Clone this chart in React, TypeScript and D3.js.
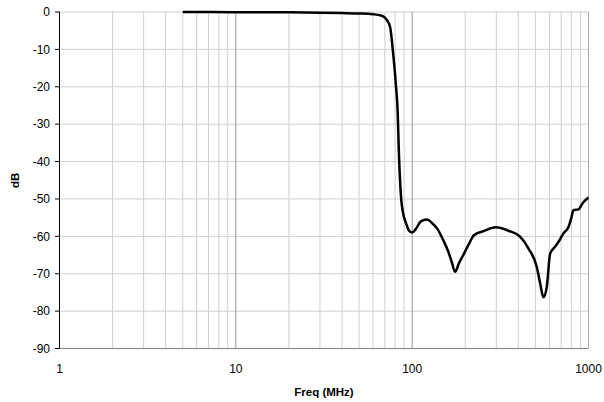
import React from "react";
import * as d3 from "d3";

const freqMHz = [5, 10, 20, 30, 40, 50, 60, 66, 70, 72, 75, 77.6, 80.7, 82.8, 84, 86.3, 89, 92.3, 96, 100, 105, 112, 121, 130, 139, 150, 160, 168, 175, 185, 195, 210, 224, 254, 298, 351, 409, 456, 509, 532, 555, 580, 606, 640, 675, 721, 770, 800, 821, 877, 930, 1000];
const gainDb = [0, -0.05, -0.1, -0.2, -0.3, -0.4, -0.6, -0.9, -1.5, -2.2, -4, -10, -19, -27, -37, -49, -54, -56.5, -58.5, -59, -58, -56, -55.5, -56.5, -58, -61, -64, -67, -69.5, -67, -65, -62, -59.7, -58.6, -57.6, -58.5, -60.1, -63.2, -68.2, -72.6, -76.3, -73.5, -64.6, -63, -61.5, -59.2, -57.5, -55, -53, -52.8, -51, -49.6];
const yTicks = [0, -10, -20, -30, -40, -50, -60, -70, -80, -90];
const xTicks = [1, 10, 100, 1000];
const xMinor = [2, 3, 4, 5, 6, 7, 8, 9, 20, 30, 40, 50, 60, 70, 80, 90, 200, 300, 400, 500, 600, 700, 800, 900];

const W = 604, H = 402;
const L = 59.5, R = 588.5, T = 12, B = 348.5;

export default function App() {
  const x = d3.scaleLog().domain([1, 1000]).range([L, R]);
  const y = d3.scaleLinear().domain([-90, 0]).range([B, T]);
  const pts = freqMHz.map((f, i) => [f, gainDb[i]] as [number, number]);
  const line = d3.line<[number, number]>().x(d => x(d[0])).y(d => y(d[1])).curve(d3.curveMonotoneX);
  const font = "Arial, 'Liberation Sans', sans-serif";
  return (
    <svg width={W} height={H} style={{ position: "absolute", left: 0, top: 0 }} fontFamily={font}>
      <rect width={W} height={H} fill="#fff" />
      {yTicks.map(t => (
        <line key={"h" + t} x1={L} x2={R} y1={y(t)} y2={y(t)} stroke="#cfcfcf" strokeWidth={1} />
      ))}
      {xMinor.map(t => (
        <line key={"v" + t} x1={x(t)} x2={x(t)} y1={T} y2={B} stroke="#cfcfcf" strokeWidth={1} />
      ))}
      {[10, 100].map(t => (
        <line key={"m" + t} x1={x(t)} x2={x(t)} y1={T} y2={B} stroke="#999" strokeWidth={1} />
      ))}
      <line x1={x(1000)} x2={x(1000)} y1={T} y2={B} stroke="#aaa" strokeWidth={1} />
      <line x1={L} x2={R} y1={B} y2={B} stroke="#808080" strokeWidth={1} />
      <line x1={L} x2={L} y1={T} y2={B} stroke="#000" strokeWidth={1} />
      {yTicks.map(t => (
        <g key={"yt" + t}>
          <line x1={L - 4.5} x2={L} y1={y(t)} y2={y(t)} stroke="#000" />
          <text x={50} y={y(t)} dy="0.35em" textAnchor="end" fontSize={12} fill="#000">{t}</text>
        </g>
      ))}
      {xTicks.map(t => (
        <text key={"xt" + t} x={x(t)} y={369} dy="0.35em" textAnchor="middle" fontSize={12} fill="#000">{t}</text>
      ))}
      <path d={line(pts) || ""} fill="none" stroke="#000" strokeWidth={2.5} strokeLinejoin="round" />
      <text x={x(Math.sqrt(1000))} y={392} dy="0.35em" textAnchor="middle" fontSize={11.5} fontWeight="bold">Freq (MHz)</text>
      <text transform={`translate(15,${(T + B) / 2}) rotate(-90)`} dy="0.35em" textAnchor="middle" fontSize={11.5} fontWeight="bold">dB</text>
    </svg>
  );
}
